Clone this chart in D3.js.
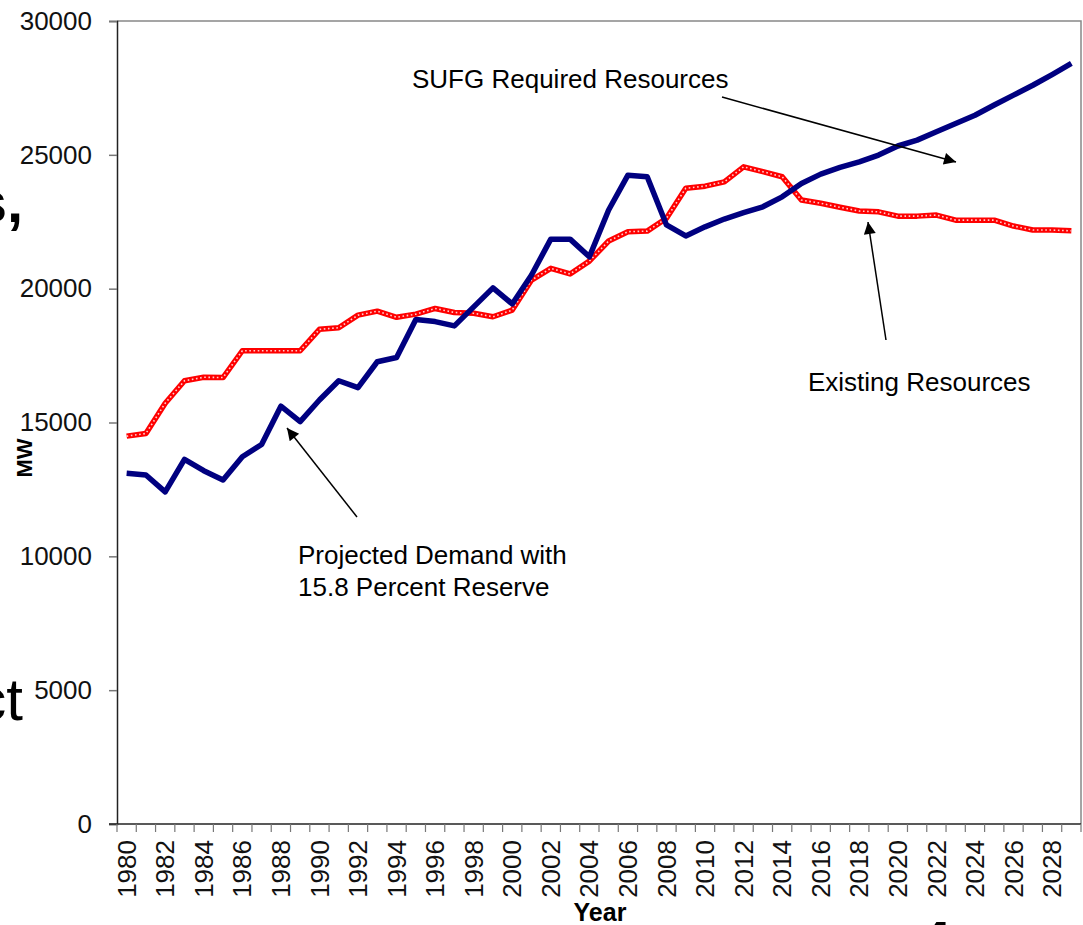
<!DOCTYPE html>
<html>
<head>
<meta charset="utf-8">
<script src="https://cdn.jsdelivr.net/npm/d3@7"></script>
<style>
  body { margin: 0; background: #fff; }
  svg { display: block; font-family: "Liberation Sans", Arial, sans-serif; }
</style>
</head>
<body>
<svg id="drawing_region" width="1083" height="925"></svg>
<script>
// years 1980..2029
var years = d3.range(1980, 2030);

// projected demand with 15.8 percent reserve (MW)
var demand = [13100, 13040, 12410, 13620, 13200, 12850, 13720, 14180, 15610, 15030,
              15840, 16560, 16300, 17270, 17430, 18850, 18770, 18610, 19320, 20030,
              19430, 20510, 21850, 21850, 21190, 22940, 24240, 24180, 22380, 21970,
              22310, 22600, 22840, 23060, 23430, 23930, 24280, 24530, 24740, 24990,
              25330, 25550, 25860, 26170, 26480, 26860, 27230, 27600, 28000, 28420];

// existing resources (MW)
var existing = [14490, 14590, 15720, 16560, 16690, 16680, 17680, 17680, 17680, 17680,
                18480, 18540, 19010, 19160, 18930, 19050, 19260, 19110, 19080, 18950,
                19200, 20320, 20760, 20550, 21030, 21780, 22130, 22150, 22630, 23750,
                23830, 23990, 24550, 24370, 24180, 23310, 23190, 23040, 22900, 22870,
                22710, 22710, 22750, 22560, 22560, 22560, 22340, 22190, 22190, 22160];

var yTicks = [0, 5000, 10000, 15000, 20000, 25000, 30000];
var xLabels = years.filter(function (y) { return y % 2 === 0; });

var svg = d3.select('#drawing_region');
var plotL = 117, plotR = 1081, plotT = 21, plotB = 824;

var x = d3.scaleBand().domain(years).range([plotL, plotR]);
var y = d3.scaleLinear().domain([0, 30000]).range([plotB, plotT]);
var cx = function (yr) { return x(yr) + x.bandwidth() / 2; };

// background slide fragments
svg.append('text').attr('x', 23).attr('y', 222).attr('text-anchor', 'end')
    .attr('font-size', 58).attr('font-weight', 'bold').text('s,');
svg.append('text').attr('x', 23).attr('y', 720).attr('text-anchor', 'end')
    .attr('font-size', 60).text('ct');
svg.append('text').attr('x', 918).attr('y', 963)
    .attr('font-size', 60).attr('font-weight', 'bold').text('4');

// frame (top / right)
svg.append('path')
    .attr('d', 'M' + plotL + ',' + plotT + 'H' + plotR + 'V' + plotB)
    .attr('fill', 'none').attr('stroke', '#888').attr('stroke-width', 1.5);

// y axis
var yAxis = svg.append('g').attr('transform', 'translate(' + plotL + ',0)')
    .call(d3.axisLeft(y).tickValues(yTicks).tickSize(8).tickPadding(17).tickFormat(d3.format('d')));
yAxis.select('.domain').attr('stroke', '#222').attr('stroke-width', 1.5);
yAxis.selectAll('.tick line').attr('stroke', '#777').attr('stroke-width', 1.5);
yAxis.selectAll('.tick text').attr('font-size', 26).attr('fill', '#111')
    .attr('font-family', '"Liberation Sans", Arial, sans-serif');

// x axis
var xAxis = svg.append('g').attr('transform', 'translate(0,' + plotB + ')');
xAxis.append('line').attr('x1', plotL - 8).attr('x2', plotR)
    .attr('stroke', '#222').attr('stroke-width', 1.5);
xAxis.selectAll('line.tk')
    .data(years.concat([null]))
    .join('line').attr('class', 'tk')
    .attr('x1', function (d) { return d === null ? plotR : x(d); })
    .attr('x2', function (d) { return d === null ? plotR : x(d); })
    .attr('y1', 0).attr('y2', 8)
    .attr('stroke', '#777').attr('stroke-width', 1.2);
xAxis.selectAll('text')
    .data(xLabels)
    .join('text')
    .attr('transform', function (d) { return 'translate(' + cx(d) + ',16) rotate(-90)'; })
    .attr('text-anchor', 'end').attr('dy', '0.35em')
    .attr('font-size', 26).attr('fill', '#111')
    .text(function (d) { return d; });

// axis titles
svg.append('text').attr('x', 600).attr('y', 921).attr('text-anchor', 'middle')
    .attr('font-size', 25).attr('font-weight', 'bold').text('Year');
svg.append('text').attr('transform', 'translate(32,458) rotate(-90)').attr('text-anchor', 'middle')
    .attr('font-size', 22).attr('font-weight', 'bold').text('MW');

// lines
var line = d3.line().x(function (d, i) { return cx(years[i]); }).y(function (d) { return y(d); });

svg.append('path').datum(existing).attr('d', line)
    .attr('fill', 'none').attr('stroke', '#ff0000').attr('stroke-width', 5.5)
    .attr('stroke-linejoin', 'round');
svg.append('path').datum(existing).attr('d', line)
    .attr('fill', 'none').attr('stroke', '#ffd0d0').attr('stroke-width', 1.6)
    .attr('stroke-dasharray', '1.6 2.6');
svg.append('path').datum(demand).attr('d', line)
    .attr('fill', 'none').attr('stroke', '#000080').attr('stroke-width', 5.5)
    .attr('stroke-linejoin', 'round');

// annotations
svg.append('defs').append('marker')
    .attr('id', 'head').attr('viewBox', '0 0 10 10').attr('refX', 10).attr('refY', 5)
    .attr('markerWidth', 14).attr('markerHeight', 12).attr('markerUnits', 'userSpaceOnUse')
    .attr('orient', 'auto')
    .append('path').attr('d', 'M0,0L10,5L0,10Z').attr('fill', '#000');

var arrows = [
    [722, 97, 956, 162],
    [886, 340, 868, 222],
    [357, 517, 287, 428]
];
svg.selectAll('line.arrow').data(arrows).join('line').attr('class', 'arrow')
    .attr('x1', function (d) { return d[0]; }).attr('y1', function (d) { return d[1]; })
    .attr('x2', function (d) { return d[2]; }).attr('y2', function (d) { return d[3]; })
    .attr('stroke', '#000').attr('stroke-width', 1.5).attr('marker-end', 'url(#head)');

var labels = [
    ['SUFG Required Resources', 412, 88],
    ['Existing Resources', 808, 391],
    ['Projected Demand with', 298, 564],
    ['15.8 Percent Reserve', 298, 596]
];
svg.selectAll('text.note').data(labels).join('text').attr('class', 'note')
    .attr('x', function (d) { return d[1]; }).attr('y', function (d) { return d[2]; })
    .attr('font-size', 26).attr('fill', '#000')
    .text(function (d) { return d[0]; });
</script>
</body>
</html>
